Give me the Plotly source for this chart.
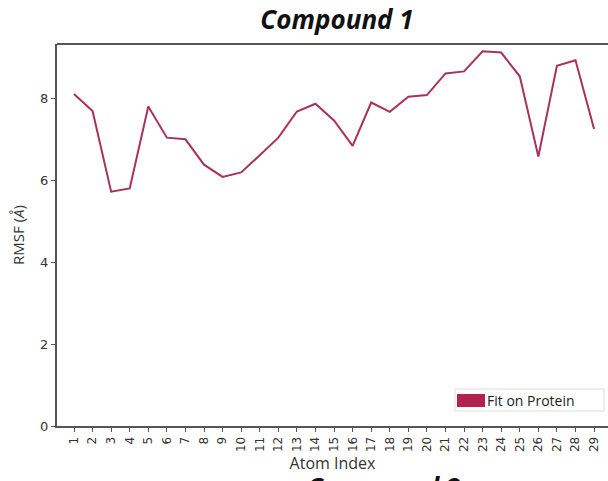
import plotly.graph_objects as go

# RMSF per atom, compound 1 (fit on protein)
atom_index = list(range(1, 30))
rmsf = [8.12, 7.70, 5.73, 5.81, 7.81, 7.05, 7.01, 6.39, 6.09, 6.20,
        6.62, 7.05, 7.69, 7.88, 7.47, 6.85, 7.91, 7.68, 8.05, 8.09,
        8.62, 8.67, 9.16, 9.13, 8.55, 6.59, 8.81, 8.94, 7.26]
y_ticks = [0, 2, 4, 6, 8]
series_name = "Fit on Protein"
line_color = "#A8325C"
axis_color = "#555555"

W, H = 608, 481
ml, mt, bottom_px = 57, 44, 426
fig = go.Figure()
fig.add_trace(go.Scatter(
    x=atom_index, y=rmsf, mode="lines", name=series_name,
    line=dict(color=line_color, width=2), showlegend=False,
))

fig.update_layout(
    width=W, height=H,
    margin=dict(l=ml, r=0, t=mt, b=H - bottom_px),
    plot_bgcolor="white", paper_bgcolor="white",
    title=dict(text="<b><i>Compound 1</i></b>", x=337 / W, xanchor="center",
               y=1 - 20 / H, yanchor="middle",
               font=dict(family="Open Sans", size=26, color="#111111")),
    xaxis=dict(
        range=[0.085, 29.75], tickmode="array", tickvals=atom_index,
        ticktext=[str(i) for i in atom_index], tickangle=-90,
        ticks="outside", ticklen=4, tickcolor=axis_color, tickwidth=1,
        showline=True, linecolor=axis_color, linewidth=2, showgrid=False,
        zeroline=False,
        tickfont=dict(family="DejaVu Sans", size=12, color="#333333"),
        title=dict(text="Atom Index", standoff=4,
                   font=dict(family="Open Sans", size=16, color="#333333")),
    ),
    yaxis=dict(
        range=[0, 9.34], tickmode="array", tickvals=y_ticks,
        ticks="outside", ticklen=4, tickcolor=axis_color, tickwidth=1,
        showline=True, linecolor=axis_color, linewidth=2, showgrid=False,
        zeroline=False,
        tickfont=dict(family="DejaVu Sans", size=13, color="#333333"),
        title=dict(text="RMSF (<i>Å</i>)", standoff=12,
                   font=dict(family="Open Sans", size=15, color="#333333")),
    ),
)

# top frame line
fig.add_shape(type="line", xref="paper", yref="paper", x0=0, x1=1, y0=1, y1=1,
              line=dict(color=axis_color, width=2))

# pixel -> paper helpers for the hand-built legend
ph = bottom_px - mt
def py(p):
    return (bottom_px - p) / ph
def px(p):
    return (p - ml) / (W - ml)

fig.add_shape(type="rect", xref="paper", yref="paper",
              x0=px(455), x1=px(604), y0=py(411), y1=py(389),
              line=dict(color="#DDDDDD", width=1), fillcolor="white")
fig.add_shape(type="rect", xref="paper", yref="paper",
              x0=px(457), x1=px(485), y0=py(407), y1=py(394),
              line=dict(width=0), fillcolor="#B0234F")
fig.add_annotation(text=series_name, xref="paper", yref="paper",
                   x=px(485), y=py(400.5), xanchor="left", yanchor="middle",
                   showarrow=False,
                   font=dict(family="Open Sans", size=14, color="#222222"))

# heading of the following panel, starting at the lower edge
fig.add_annotation(text="<b><i>Compound 2</i></b>", xref="paper", yref="paper",
                   x=px(383), y=py(467), xanchor="center", yanchor="top",
                   showarrow=False,
                   font=dict(family="Open Sans", size=26, color="#111111"))

fig.write_html("out.html")
